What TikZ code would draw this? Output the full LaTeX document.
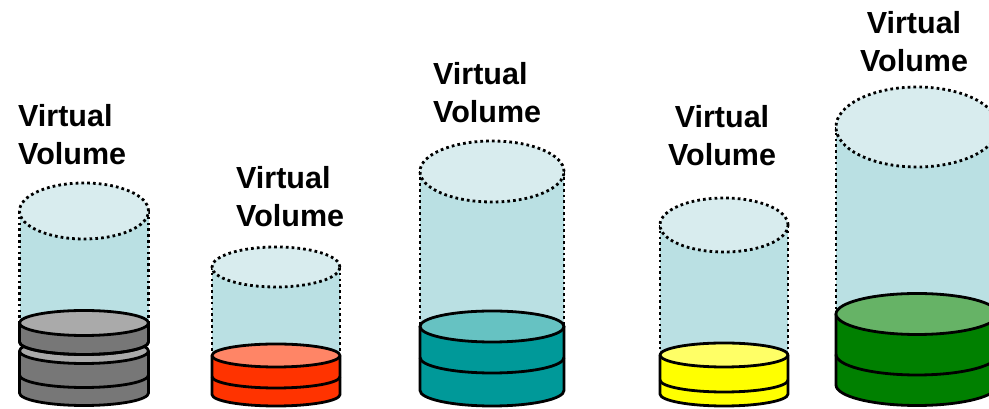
\documentclass[tikz,border=0pt]{standalone}
\usepackage{fontspec}
\setmainfont{Liberation Sans}

\definecolor{vvtop}{RGB}{216,236,238}
\definecolor{vvbody}{RGB}{186,224,227}
\definecolor{greyD}{RGB}{119,119,119}
\definecolor{greyL}{RGB}{170,170,170}
\definecolor{redD}{RGB}{255,51,0}
\definecolor{redL}{RGB}{255,133,102}
\definecolor{tealD}{RGB}{0,153,153}
\definecolor{tealL}{RGB}{102,194,194}
\definecolor{yelD}{RGB}{255,255,0}
\definecolor{yelL}{RGB}{255,255,102}
\definecolor{grnD}{RGB}{0,128,0}
\definecolor{grnL}{RGB}{102,179,102}

% dotted shell of a virtual volume: cx, rx, top centre y, top ry, disk top y (y measured downwards)
\newcommand\vshell[5]{%
  \pgfmathsetmacro\sxl{#1-#2}\pgfmathsetmacro\sxr{#1+#2}%
  \pgfmathsetmacro\syt{409-#3}\pgfmathsetmacro\syd{409-#5}%
  \fill[vvbody] (\sxl,\syt) rectangle (\sxr,\syd);
  \draw[dotrim] (\sxl,\syt) -- (\sxl,\syd) (\sxr,\syt) -- (\sxr,\syd);
  \filldraw[fill=vvtop, dotrim] (#1,\syt) ellipse[x radius=#2, y radius=#4];
}
% solid disk: cx, rx, top y, ry, middle ring y, bottom y, side colour, top colour
\newcommand\vdisk[8]{%
  \pgfmathsetmacro\dxl{#1-#2}\pgfmathsetmacro\dxr{#1+#2}%
  \pgfmathsetmacro\dyt{409-#3}\pgfmathsetmacro\dym{409-#5}\pgfmathsetmacro\dyb{409-#6}%
  \filldraw[fill=#7, rim] (\dxl,\dyt) -- (\dxl,\dyb)
    arc[start angle=180, end angle=360, x radius=#2, y radius=#4] -- (\dxr,\dyt) -- cycle;
  \draw[rim] (\dxl,\dym) arc[start angle=180, end angle=360, x radius=#2, y radius=#4];
  \filldraw[fill=#8, rim] (#1,\dyt) ellipse[x radius=#2, y radius=#4];
}

\begin{document}
\begin{tikzpicture}[x=1pt, y=1pt,
  rim/.style={line width=2.8pt, draw=black, line join=round},
  dotrim/.style={line width=2.8pt, draw=black, dash pattern=on 2.7pt off 3.1pt},
  lbl/.style={font=\fontsize{30.5}{38.5}\selectfont\bfseries, inner sep=0pt}]
\useasboundingbox (0,0) rectangle (989,409);
\begin{scope}
  \clip (0,0) rectangle (989,409);
  % grey volume: two stacked disks
  \vshell{84}{64.5}{211}{28}{323}
  \vdisk{84}{64.5}{351}{12.5}{375}{393}{greyD}{greyL}
  \vdisk{84}{64.5}{323}{12.5}{342}{342}{greyD}{greyL}
  % red volume
  \vshell{276}{64}{267}{20}{355.5}
  \vdisk{276}{64}{355.5}{11.5}{376.5}{394.5}{redD}{redL}
  % teal volume
  \vshell{492}{72}{171.5}{30.5}{326.5}
  \vdisk{492}{72}{326.5}{15.5}{357.5}{390.5}{tealD}{tealL}
  % yellow volume
  \vshell{724}{64}{225}{27}{355}
  \vdisk{724}{64}{355}{12}{380}{394}{yelD}{yelL}
  % green volume
  \vshell{917}{81}{127}{40}{314}
  \vdisk{917}{81}{314}{20.5}{354.5}{385}{grnD}{grnL}
\end{scope}

% labels, anchored at the baseline of their second line
\node[lbl, anchor=base west, align=left] (lab1) at (18,244) {Virtual\\Volume};
\node[lbl, anchor=base west, align=left] (lab2) at (236,182) {Virtual\\Volume};
\node[lbl, anchor=base west, align=left] (lab3) at (433,286) {Virtual\\Volume};
\node[lbl, anchor=base, align=center] (lab4) at (722,243) {Virtual\\Volume};
\node[lbl, anchor=base, align=center] (lab5) at (914,337) {Virtual\\Volume};
\end{tikzpicture}
\end{document}
